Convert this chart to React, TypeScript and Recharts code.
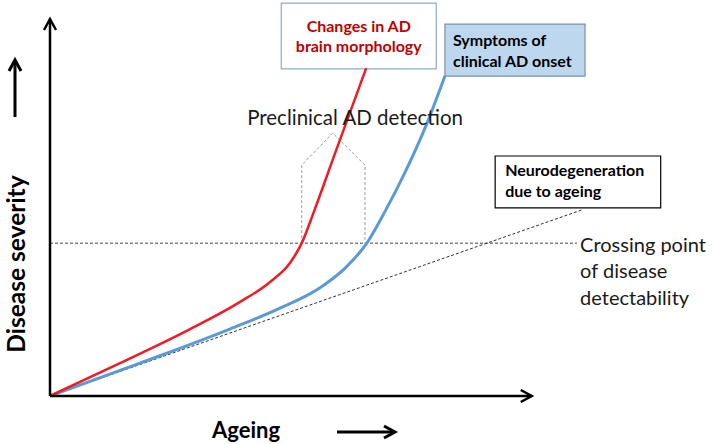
import { ComposedChart, Line, XAxis, YAxis, ReferenceLine, ReferenceArea, ReferenceDot } from "recharts";

const FONT = "Lato, 'Open Sans', sans-serif";

// ageing (x) vs disease severity (y), both 0-100
const redAge = [0, 11.3, 22.6, 30.6, 35.5, 38.7, 40.6, 42.6, 46.0, 51.0];
const redSeverity = [0, 8.3, 16.9, 23.7, 28.8, 33.6, 38.6, 46.7, 61.4, 82.8];

const blueAge = [0, 14.5, 29.0, 37.1, 43.5, 47.6, 51.1, 54.0, 57.3, 60.5, 63.7];
const blueSeverity = [0, 8.3, 16.9, 22.2, 27.3, 32.3, 38.6, 46.5, 56.6, 67.7, 80.8];

const ageingAge = [0, 85.8];
const ageingSeverity = [0, 47.0];

const detectLevel = 38.6;
const detectEnd = 85;

const windowAge = [40.6, 40.6, 45.6, 50.8, 50.8];
const windowSeverity = [38.6, 58.3, 66.4, 58.3, 38.6];

const xAxisEnd = 77.7;
const yAxisEnd = 95.2;

const zip = (xs: number[], ys: number[]) => xs.map((x, i) => ({ x, y: ys[i] }));

const redData = zip(redAge, redSeverity);
const blueData = zip(blueAge, blueSeverity);
const ageingData = zip(ageingAge, ageingSeverity);
const windowData = zip(windowAge, windowSeverity);

function arrowLine(x1: number, y1: number, x2: number, y2: number, w = 2.5, len = 11, half = 6) {
  const a = Math.atan2(y2 - y1, x2 - x1);
  const bx = x2 - len * Math.cos(a);
  const by = y2 - len * Math.sin(a);
  const px = -Math.sin(a) * half;
  const py = Math.cos(a) * half;
  return (
    <g>
      <line x1={x1} y1={y1} x2={x2} y2={y2} stroke="#000" strokeWidth={w} />
      <polyline
        points={`${bx + px},${by + py} ${x2},${y2} ${bx - px},${by - py}`}
        fill="none"
        stroke="#000"
        strokeWidth={w}
      />
    </g>
  );
}

const AxisArrow = (p: any) => arrowLine(p.x1, p.y1, p.x2, p.y2);

const boxText = (lines: string[], color: string, align: "middle" | "start", pad: number, offs: number[]) =>
  (props: any) => {
    const vb = props.viewBox || {};
    const cy = vb.y + vb.height / 2;
    const tx = align === "middle" ? vb.x + vb.width / 2 : vb.x + pad;
    return (
      <text fontFamily={FONT} fontWeight="bold" fontSize={16} fill={color} textAnchor={align}>
        {lines.map((l, i) => (
          <tspan key={i} x={tx} y={cy + offs[i]} dominantBaseline="central">
            {l}
          </tspan>
        ))}
      </text>
    );
  };

const freeText = (lines: string[], size: number, anchor: "middle" | "start", gap: number) =>
  (props: any) => {
    const vb = props.viewBox || {};
    const cx = vb.x + (vb.width || 0) / 2;
    const cy = vb.y + (vb.height || 0) / 2;
    return (
      <text fontFamily={FONT} fontSize={size} fill="#1a1a1a" textAnchor={anchor}>
        {lines.map((l, i) => (
          <tspan key={i} x={cx} y={cy + i * gap} dominantBaseline="central">
            {l}
          </tspan>
        ))}
      </text>
    );
  };

const XLabel = (props: any) => {
  const vb = props.viewBox || { x: 50, y: 396 };
  return (
    <g>
      <text x={vb.x + 196} y={vb.y + 33} fontFamily={FONT} fontWeight="bold" fontSize={22} textAnchor="middle" dominantBaseline="central" fill="#000">
        Ageing
      </text>
      {arrowLine(vb.x + 287, vb.y + 36, vb.x + 345, vb.y + 36, 3, 11, 6)}
    </g>
  );
};

const YLabel = (props: any) => {
  const vb = props.viewBox || { x: 0, y: 0 };
  const cx = vb.x + 15;
  const cy = vb.y + 264;
  return (
    <g>
      <text x={cx} y={cy} transform={`rotate(-90 ${cx} ${cy})`} fontFamily={FONT} fontWeight="bold" fontSize={24.5} textAnchor="middle" dominantBaseline="central" fill="#000">
        Disease severity
      </text>
      {arrowLine(cx, vb.y + 117, cx, vb.y + 60, 3, 11, 6)}
    </g>
  );
};

export default function App() {
  return (
    <div style={{ position: "absolute", left: 0, top: 0, background: "#fff" }}>
      <ComposedChart width={714} height={444} margin={{ top: 0, right: 44, bottom: 0, left: 0 }}>
        <XAxis type="number" dataKey="x" domain={[0, 100]} allowDataOverflow axisLine={false} tickLine={false} tick={false} height={48} label={XLabel} />
        <YAxis type="number" dataKey="y" domain={[0, 100]} allowDataOverflow axisLine={false} tickLine={false} tick={false} width={50} label={YLabel} />

        <ReferenceLine segment={[{ x: 0, y: detectLevel }, { x: detectEnd, y: detectLevel }]} stroke="#444" strokeWidth={1} strokeDasharray="3 2" ifOverflow="visible" />

        <Line data={windowData} dataKey="y" type="linear" stroke="#9a9a9a" strokeWidth={1} strokeDasharray="3 2" dot={false} activeDot={false} isAnimationActive={false} />
        <Line data={ageingData} dataKey="y" type="linear" stroke="#333" strokeWidth={1} strokeDasharray="3 2" dot={false} activeDot={false} isAnimationActive={false} />
        <Line data={blueData} dataKey="y" type="monotone" stroke="#5b9bd5" strokeWidth={3} dot={false} activeDot={false} isAnimationActive={false} />
        <Line data={redData} dataKey="y" type="monotone" stroke="#ee1c24" strokeWidth={2.5} dot={false} activeDot={false} isAnimationActive={false} />

        <ReferenceLine segment={[{ x: 0, y: 0 }, { x: xAxisEnd, y: 0 }]} ifOverflow="visible" shape={AxisArrow} />
        <ReferenceLine segment={[{ x: 0, y: 0 }, { x: 0, y: yAxisEnd }]} ifOverflow="visible" shape={AxisArrow} />

        <ReferenceArea x1={37.3} x2={62.3} y1={82.6} y2={99.2} fill="#fff" fillOpacity={1} stroke="#8fa9c8" strokeWidth={1.2} ifOverflow="visible"
          label={boxText(["Changes in AD", "brain morphology"], "#c00000", "middle", 0, [-11, 9])} />
        <ReferenceArea x1={63.7} x2={86.3} y1={80.8} y2={93.9} fill="#bdd7ee" fillOpacity={1} stroke="#7b8fa6" strokeWidth={1.2} ifOverflow="visible"
          label={boxText(["Symptoms of", "clinical AD onset"], "#000", "start", 8, [-11, 10])} />
        <ReferenceArea x1={71.8} x2={98.5} y1={47.5} y2={60.6} fill="#fff" fillOpacity={1} stroke="#000" strokeWidth={1.2} ifOverflow="visible"
          label={boxText(["Neurodegeneration", "due to ageing"], "#000", "start", 10, [-12, 9])} />

        <ReferenceDot x={49.2} y={70.5} r={0} fill="none" stroke="none" ifOverflow="visible"
          label={freeText(["Preclinical AD detection"], 20.5, "middle", 0)} />
        <ReferenceDot x={85.5} y={38.4} r={0} fill="none" stroke="none" ifOverflow="visible"
          label={freeText(["Crossing point", "of disease", "detectability"], 20, "start", 26.5)} />
      </ComposedChart>
    </div>
  );
}
